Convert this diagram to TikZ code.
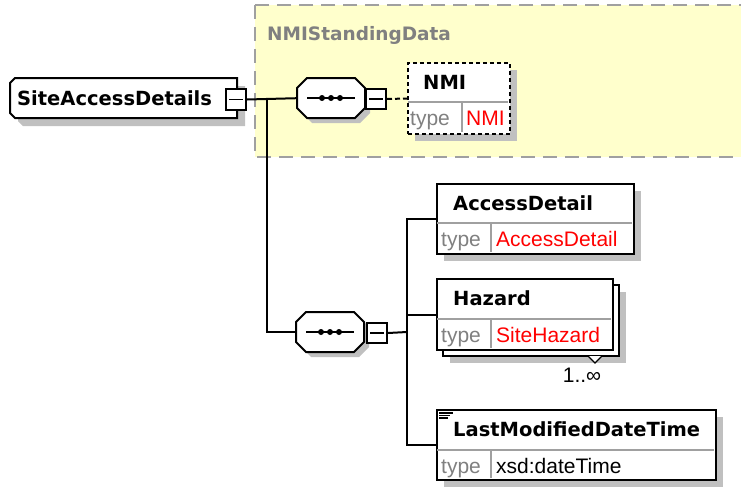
\documentclass[tikz,border=0pt]{standalone}
\usepackage{fontspec}
\setmainfont{Liberation Sans}
\newfontfamily\dejavu{DejaVu Sans}
\usetikzlibrary{calc}
\definecolor{shadowc}{RGB}{192,192,192}
\definecolor{yellowbg}{RGB}{255,255,204}
\definecolor{frameg}{RGB}{160,160,160}
\definecolor{typeg}{RGB}{128,128,128}
\definecolor{divg}{RGB}{160,160,160}
\definecolor{redt}{RGB}{255,0,0}
\tikzset{
 conn/.style={line width=2pt},
 dconn/.style={line width=2pt, dash pattern=on 5pt off 3pt},
 boxnode/.style={draw, line width=2pt, fill=white, inner sep=0pt, anchor=north west},
 ghost/.style={inner sep=0pt, anchor=north west},
 nametext/.style={font=\dejavu\bfseries\fontsize{19.5}{22}\selectfont, anchor=base west, inner sep=0pt},
 typetext/.style={font=\fontsize{21}{22}\selectfont, text=typeg, anchor=base west, inner sep=0pt},
 valtext/.style={font=\fontsize{21}{22}\selectfont, text=redt, anchor=base west, inner sep=0pt},
 plaintext/.style={font=\fontsize{21}{22}\selectfont, text=black, anchor=base west, inner sep=0pt},
 divline/.style={draw=divg, line width=1.4pt},
 minusline/.style={line width=1.6pt},
 octo/.pic={
  \fill[shadowc] (15,5) -- (63,5) -- (73,15) -- (73,35) -- (63,45) -- (15,45) -- (5,35) -- (5,15) -- cycle;
  \draw[line width=2pt, fill=white] (10,0) -- (58,0) -- (68,10) -- (68,30) -- (58,40) -- (10,40) -- (0,30) -- (0,10) -- cycle;
  \draw[line width=2pt] (10,20) -- (58,20);
  \fill (25,20) circle (3) (34,20) circle (3) (43,20) circle (3);
 }
}
\begin{document}
\begin{tikzpicture}[x=1pt,y=-1pt]
\useasboundingbox (0,0) rectangle (741,487);
\clip (0,0) rectangle (741,487);
\fill[white] (0,0) rectangle (741,487);

% group frame
\draw[fill=yellowbg, draw=frameg, line width=2pt, dash pattern=on 14pt off 8pt] (255,5) rectangle (770,157);
\node[font=\dejavu\bfseries\fontsize{18.5}{20}\selectfont, text=typeg, anchor=base west, inner sep=0pt] (grp) at (267,41) {NMIStandingData};

% main element
\fill[shadowc] (23,86) -- (245,86) -- (245,126) -- (23,126) -- (18,121) -- (18,91) -- cycle;
\draw[line width=2pt, fill=white] (15,78) -- (237,78) -- (237,118) -- (15,118) -- (10,113) -- (10,83) -- cycle;
\node[ghost, minimum width=227, minimum height=40] (sad) at (10,78) {};
\node[nametext] (sadt) at (17,105) {SiteAccessDetails};
\node[boxnode, minimum width=20, minimum height=21] (sadm) at (225,88) {};
\draw[minusline] ($(sadm.west)+(4,0)$) -- ($(sadm.east)+(-4,0)$);

% upper compositor
\pic at (297,78) {octo};
\node[ghost, minimum width=68, minimum height=40] (seqa) at (297,78) {};
\node[boxnode, minimum width=20, minimum height=20] (seqam) at (365,88) {};
\draw[minusline] ($(seqam.west)+(4,0)$) -- ($(seqam.east)+(-4,0)$);

% lower compositor
\pic at (296,312) {octo};
\node[ghost, minimum width=68, minimum height=40] (seqb) at (296,312) {};
\node[boxnode, minimum width=20, minimum height=20] (seqbm) at (366,322) {};
\draw[minusline] ($(seqbm.west)+(4,0)$) -- ($(seqbm.east)+(-4,0)$);

% NMI
\fill[shadowc] (415,70) rectangle (517,141);
\node[draw, dash pattern=on 4pt off 3pt, line width=2pt, fill=white, inner sep=0pt, anchor=north west, minimum width=102, minimum height=71] (nmi) at (407,62) {};
\draw[divline] (408,102) -- (508,102);
\draw[divline] (462,102) -- (462,132);
\node[nametext] (nmin) at (423,89) {NMI};
\node[typetext] (nmit) at (410,125) {type};
\node[valtext] (nmiv) at (466,125) {NMI};

% AccessDetail
\fill[shadowc] (444,191) rectangle (641,261);
\node[boxnode, minimum width=197, minimum height=70] (acc) at (436,183) {};
\draw[divline] (437,223) -- (632,223);
\draw[divline] (491,223) -- (491,252);
\node[nametext] (accn) at (453,210) {AccessDetail};
\node[typetext] (acct) at (441,246) {type};
\node[valtext] (accv) at (496,246) {AccessDetail};

% Hazard
\fill[shadowc] (450,292) rectangle (626,363);
\node[boxnode, minimum width=176, minimum height=71] (hazb) at (442,284) {};
\node[boxnode, minimum width=176, minimum height=71] (haz) at (436,278) {};
\draw[divline] (437,319) -- (611,319);
\draw[divline] (491,319) -- (491,348);
\node[nametext] (hazn) at (453,305) {Hazard};
\node[typetext] (hazt) at (441,342) {type};
\node[valtext] (hazv) at (496,342) {SiteHazard};
\filldraw[fill=white, draw=black, line width=1.2pt] (588,356) -- (595,363) -- (602,356);
\node[plaintext, anchor=base] (occ) at (582,382) {1..∞};

% LastModifiedDateTime
\fill[shadowc] (444,417) rectangle (723,487);
\node[boxnode, minimum width=279, minimum height=70] (lmd) at (436,409) {};
\draw[divline] (437,450) -- (714,450);
\draw[divline] (491,450) -- (491,478);
\draw[line width=1.2pt] (439,413) -- (453,413) (439,415.5) -- (450,415.5) (439,418) -- (448,418);
\node[nametext] (lmdn) at (453,436) {LastModifiedDateTime};
\node[typetext] (lmdt) at (441,473) {type};
\node[plaintext] (lmdv) at (496,473) {xsd:dateTime};

% connectors
\coordinate (ja) at (267,98);
\coordinate (jb) at (407,332);
\draw[conn] (sadm.east) -- (seqa.west);
\draw[conn] (ja) |- (seqb.west);
\draw[dconn] (seqam.east) -- (nmi.west);
\draw[conn] (seqbm.east) -- (jb);
\draw[conn] (acc.west) -- (acc.west -| jb) -- (lmd.west -| jb) -- (lmd.west);
\draw[conn] (haz.west) -- (haz.west -| jb);
\end{tikzpicture}
\end{document}
